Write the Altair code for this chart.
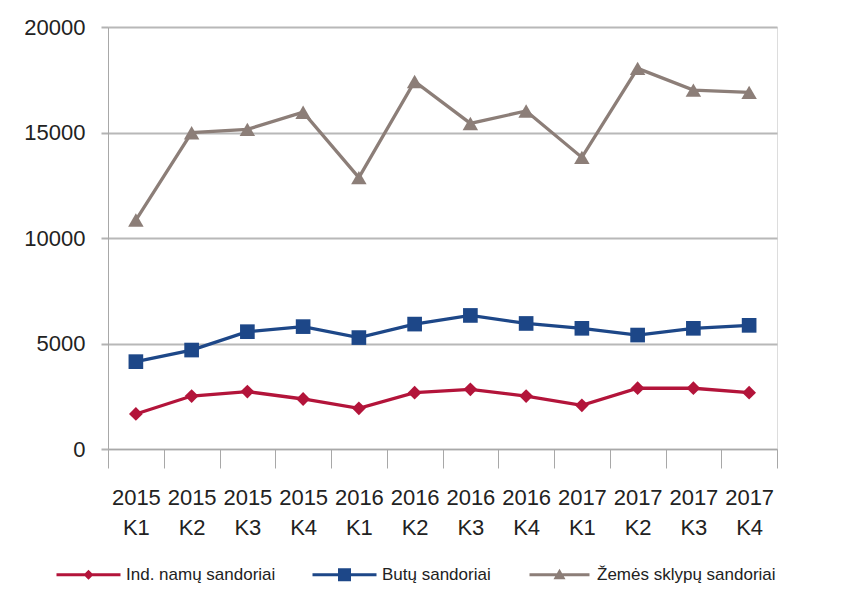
import altair as alt
import pandas as pd

quarters = ["2015 K1", "2015 K2", "2015 K3", "2015 K4",
            "2016 K1", "2016 K2", "2016 K3", "2016 K4",
            "2017 K1", "2017 K2", "2017 K3", "2017 K4"]
series_names = ["Ind. namų sandoriai", "Butų sandoriai", "Žemės sklypų sandoriai"]
ind_namu = [1660, 2510, 2720, 2370, 1930, 2670, 2830, 2510, 2070, 2880, 2880, 2670]
butu = [4140, 4690, 5560, 5800, 5280, 5920, 6330, 5950, 5720, 5400, 5720, 5860]
zemes = [10850, 14990, 15150, 15960, 12860, 17420, 15430, 16020, 13820, 18040, 17010, 16900]

colors = ["#b3143a", "#1d4788", "#8c7e78"]
shapes = ["diamond", "square", "triangle-up"]
sizes = [190, 240, 330]
legend_paths = [
    "M-6.4,-0.32H6.4V0.32H-6.4Z M-1,0L0,-1L1,0L0,1Z",
    "M-6.4,-0.32H6.4V0.32H-6.4Z M-1.3,-1.3H1.3V1.3H-1.3Z",
    "M-6.0,-0.32H6.0V0.32H-6.0Z M-1.2,0.9L0,-1.2L1.2,0.9Z",
]

rows = []
for name, vals in zip(series_names, [ind_namu, butu, zemes]):
    for q, v in zip(quarters, vals):
        rows.append({"quarter": q, "value": v, "series": name})
df = pd.DataFrame(rows)

FONT = "Liberation Sans, Arial, sans-serif"

x_enc = alt.X("quarter:N", sort=quarters, title=None,
              scale=alt.Scale(type="band", paddingInner=0, paddingOuter=0),
              axis=alt.Axis(labelAngle=0, labelExpr="split(datum.label, ' ')",
                            tickBand="extent", tickSize=19, tickColor="#a8a8a8",
                            domainColor="#a8a8a8", labelPadding=19,
                            labelFontSize=22, labelLineHeight=30, labelFont=FONT,
                            labelColor="#222222", grid=False))
y_enc = alt.Y("value:Q", title=None,
              scale=alt.Scale(domain=[0, 20000], nice=False),
              axis=alt.Axis(values=[0, 5000, 10000, 15000, 20000], format="d",
                            tickSize=7, tickColor="#b3b3b3", tickWidth=2,
                            domainColor="#a8a8a8",
                            labelPadding=16, labelFontSize=22, labelFont=FONT,
                            labelColor="#222222", grid=True, gridColor="#b8b8b8",
                            gridWidth=2))

color_scale = alt.Scale(domain=series_names, range=colors)

base = alt.Chart(df)

lines = base.mark_line(strokeWidth=3.3).encode(
    x=x_enc, y=y_enc,
    color=alt.Color("series:N", scale=color_scale, legend=None),
)

points = base.mark_point(filled=True, opacity=1).encode(
    x=x_enc, y=y_enc,
    color=alt.Color("series:N", scale=color_scale, legend=None),
    shape=alt.Shape("series:N", scale=alt.Scale(domain=series_names, range=shapes), legend=None),
    size=alt.Size("series:N", scale=alt.Scale(domain=series_names, range=sizes), legend=None),
)

leg = alt.Legend(title=None, orient="none", direction="horizontal",
                 legendX=-56, legendY=539, symbolSize=100, symbolOffset=28,
                 labelOffset=29, columnPadding=32, symbolOpacity=1,
                 labelFont=FONT, labelFontSize=17, labelColor="#222222",
                 labelLimit=0, padding=0, symbolStrokeWidth=0)

legend_layer = base.mark_point(filled=True, opacity=0).encode(
    x=x_enc, y=y_enc,
    color=alt.Color("series:N", scale=color_scale, legend=leg),
    shape=alt.Shape("series:N", scale=alt.Scale(domain=series_names, range=legend_paths), legend=leg),
)

chart = alt.layer(lines, points, legend_layer).resolve_scale(
    color="independent", shape="independent", size="independent"
).properties(
    width=669, height=422,
    autosize=alt.AutoSizeParams(type="none"),
    padding={"left": 100, "top": 19, "right": 60, "bottom": 137},
).configure_view(
    fill="#f3f3f3", stroke=None
).configure(background="white")

chart.save("out.html", embed_options={"renderer": "svg", "actions": False})
